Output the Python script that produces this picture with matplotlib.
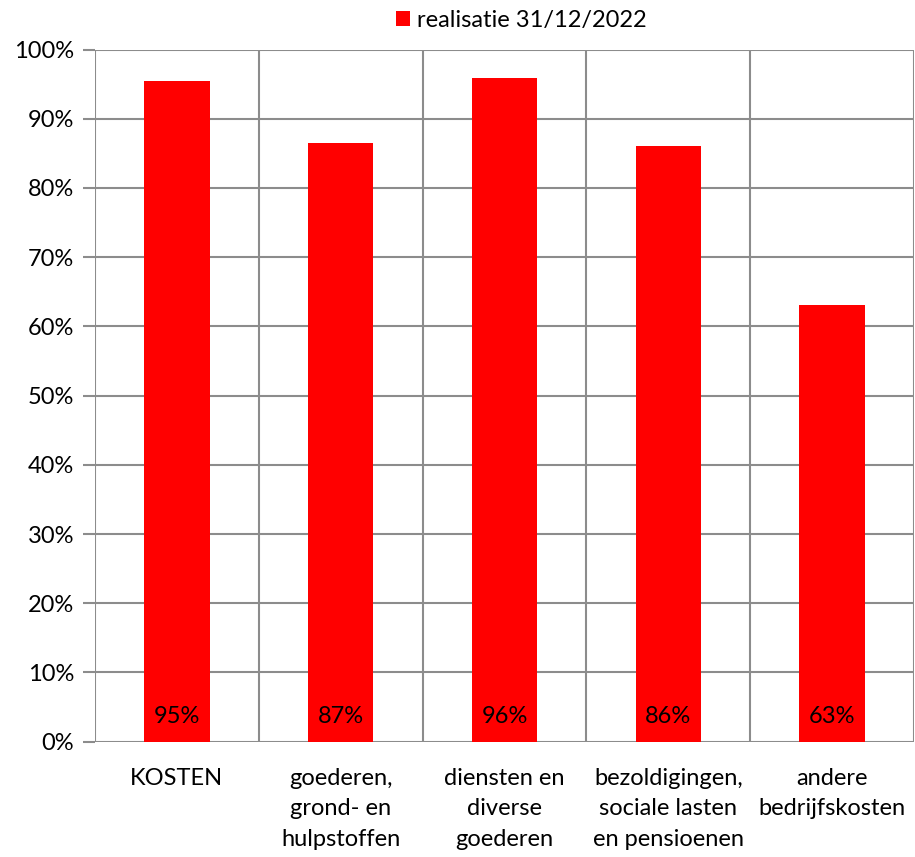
import matplotlib
matplotlib.use("Agg")
import matplotlib.pyplot as plt
from matplotlib.ticker import FixedLocator, PercentFormatter

categories = ["KOSTEN", "goederen,\ngrond- en\nhulpstoffen", "diensten en\ndiverse\ngoederen",
              "bezoldigingen,\nsociale lasten\nen pensioenen", "andere\nbedrijfskosten"]
values = [95.4, 86.5, 95.9, 86.0, 63.1]
labels = ["95%", "87%", "96%", "86%", "63%"]
series_name = "realisatie 31/12/2022"
yticks = [0, 10, 20, 30, 40, 50, 60, 70, 80, 90, 100]

plt.rcParams['font.family'] = ['Lato', 'DejaVu Sans']
grid_c = "#8c8c8c"
fs = 17

fig = plt.figure(figsize=(9.15, 8.57), dpi=100)
ax = fig.add_axes([95/915, 1-741.7/857, 819/915, (741.7-49.5)/857])

x = list(range(len(categories)))
ax.bar(x, values, width=0.4, color="#ff0000", label=series_name, zorder=3)
for xi, lab in zip(x, labels):
    ax.text(xi, 3.7, lab, ha="center", va="center", fontsize=fs, color="black", zorder=4)

ax.set_xlim(-0.5, len(categories) - 0.5)
ax.set_ylim(0, 100)
ax.set_yticks(yticks)
ax.yaxis.set_major_formatter(PercentFormatter(decimals=0))
ax.set_xticks(x)
ax.set_xticklabels(categories, fontsize=fs, linespacing=1.55)
ax.xaxis.set_minor_locator(FixedLocator([i + 0.5 for i in range(-1, len(categories))]))
ax.tick_params(axis="x", which="major", length=0, pad=19)
ax.tick_params(axis="x", which="minor", length=0)
ax.tick_params(axis="y", length=9, width=1.5, color=grid_c, labelsize=fs, pad=6)
ax.grid(axis="y", which="major", color=grid_c, linewidth=1.5, zorder=0)
ax.grid(axis="x", which="minor", color=grid_c, linewidth=1.5, zorder=0)
for s in ax.spines.values():
    s.set_visible(False)

fig.legend(loc="center", bbox_to_anchor=(0.57, 1-20/857), frameon=False, fontsize=fs,
           handlelength=0.6, handleheight=0.6, handletextpad=0.3, borderpad=0)

fig.savefig("out.png", dpi=100)
